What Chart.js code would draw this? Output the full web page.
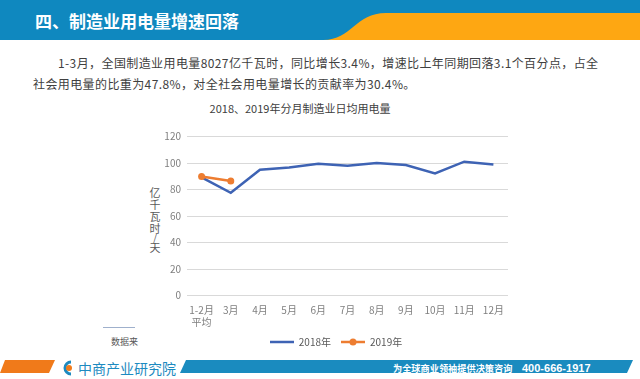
<!DOCTYPE html>
<html lang="zh">
<head>
<meta charset="utf-8">
<script src="https://cdn.jsdelivr.net/npm/chart.js@4.4.1/dist/chart.umd.min.js"></script>
<style>
  html, body { margin: 0; padding: 0; }
  body { width: 640px; height: 379px; position: relative; overflow: hidden; background: #fff;
         font-family: "Noto Sans CJK SC", "Noto Sans", sans-serif; }
  .abs { position: absolute; white-space: nowrap; }
  #deco { position: absolute; left: 0; top: 0; }
  #titre { left: 35px; top: 10px; font-size: 17px; line-height: 22px; font-weight: bold; color: #fff; }
  .para { font-size: 12px; line-height: 16px; color: #404040; letter-spacing: 0.4px; }
  #titreGraf { left: 200px; width: 200px; top: 100px; text-align: center; font-size: 11px; line-height: 16px; color: #404040; }
  #eixoY { left: 149px; top: 186px; width: 12px; text-align: center; font-size: 11px; color: #595959; white-space: normal; }
  #eixoY div { height: 12px; line-height: 12px; }
  #eixoY div.barra { height: 7px; line-height: 7px; font-size: 10px; }
  #fonte { left: 111px; top: 335px; font-size: 9px; line-height: 14px; color: #595959; }
  #linhaFonte { left: 103px; top: 327px; width: 32px; height: 1px; background: #9fb0cc; }
  #caixa { position: absolute; left: 150px; top: 120px; width: 362px; height: 237px; }
  #marca { left: 78px; top: 359px; font-size: 14px; line-height: 18px; color: #1d8ac0; }
  #slogan { left: 393px; top: 362px; font-size: 9.2px; line-height: 12px; font-weight: bold; color: #fff; }
  #fone { left: 522px; top: 361px; font-size: 11px; line-height: 14px; font-weight: bold; color: #fff;
          font-family: "Liberation Sans", sans-serif; }
</style>
</head>
<body>

<svg id="deco" width="640" height="379">
  <rect x="0" y="0" width="640" height="40" fill="#0f88bf"/>
  <path d="M323,40 C352,40 355,13 386,13 L640,13 L640,40 Z" fill="#fea712"/>
  <polygon points="5,360 55,360 49,373 0,373" fill="#f07a1a"/>
  <polygon points="186,360 633,360 627,373 180,373" fill="#1a8bbf"/>
  <path d="M71,362 A6,6 0 1 0 71,374" fill="none" stroke="#1d8ac0" stroke-width="3"/>
  <circle cx="69" cy="368" r="3" fill="#f07a1a"/>
</svg>

<div id="titre" class="abs">四、制造业用电量增速回落</div>
<div class="abs para" style="left:58px; top:55px;">1-3月，全国制造业用电量8027亿千瓦时，同比增长3.4%，增速比上年同期回落3.1个百分点，占全</div>
<div class="abs para" style="left:33px; top:76px;">社会用电量的比重为47.8%，对全社会用电量增长的贡献率为30.4%。</div>

<div id="titreGraf" class="abs">2018、2019年分月制造业日均用电量</div>
<div id="eixoY" class="abs"><div>亿</div><div>千</div><div>瓦</div><div>时</div><div class="barra">/</div><div>天</div></div>
<div id="linhaFonte" class="abs"></div>
<div id="fonte" class="abs">数据来</div>

<div id="caixa"><canvas id="grafico"></canvas></div>

<div id="marca" class="abs">中商产业研究院</div>
<div id="slogan" class="abs">为全球商业领袖提供决策咨询</div>
<div id="fone" class="abs">400-666-1917</div>

<script>
// dados (亿千瓦时/天)
const meses = [['1-2月', '平均'], '3月', '4月', '5月', '6月', '7月', '8月', '9月', '10月', '11月', '12月'];
const valores2018 = [89.3, 77.6, 95.1, 96.8, 99.6, 98.1, 100.2, 98.6, 92.3, 101.1, 99.0];
const valores2019 = [90.0, 86.5];
const nomesSeries = ['2018年', '2019年'];

const AZUL = '#3e63b4';
const LARANJA = '#ed7d31';
const FONTE = '"Noto Sans CJK SC", "Noto Sans", sans-serif';

// ícone da legenda: traço, com bolinha no meio quando a série tem marcadores
function iconeLegenda(cor, comPonto) {
    const c = document.createElement('canvas');
    c.width = 24;
    c.height = 8;
    const ctx = c.getContext('2d');
    ctx.strokeStyle = cor;
    ctx.lineWidth = 2.5;
    ctx.beginPath();
    ctx.moveTo(0, 4);
    ctx.lineTo(24, 4);
    ctx.stroke();
    if (comPonto) {
        ctx.fillStyle = cor;
        ctx.beginPath();
        ctx.arc(12, 4, 3.5, 0, Math.PI * 2);
        ctx.fill();
    }
    return c;
}

const icones = [iconeLegenda(AZUL, false), iconeLegenda(LARANJA, true)];

new Chart(document.getElementById('grafico'), {
    type: 'line',
    data: {
        labels: meses,
        datasets: [{
            label: nomesSeries[0],
            data: valores2018,
            borderColor: AZUL,
            backgroundColor: AZUL,
            borderWidth: 2.5,
            pointRadius: 0,
            tension: 0,
            order: 1
        }, {
            label: nomesSeries[1],
            data: valores2019,
            borderColor: LARANJA,
            backgroundColor: LARANJA,
            borderWidth: 2.5,
            pointRadius: 3.5,
            pointBorderWidth: 0,
            tension: 0,
            order: 0
        }]
    },
    options: {
        responsive: true,
        maintainAspectRatio: false,
        animation: false,
        // padding à esquerda empurra a legenda para a direita; o eixo y fica mais estreito
        layout: { padding: { top: 16.7, right: 3, left: 13, bottom: 0 } },
        plugins: {
            tooltip: { enabled: false },
            legend: {
                position: 'bottom',
                labels: {
                    usePointStyle: true,
                    pointStyleWidth: 24,
                    padding: 10,
                    color: '#595959',
                    font: { size: 10, family: FONTE },
                    sort: (a, b) => a.datasetIndex - b.datasetIndex,
                    generateLabels: (chart) => {
                        const itens = Chart.defaults.plugins.legend.labels.generateLabels(chart);
                        itens.forEach((it) => { it.pointStyle = icones[it.datasetIndex]; });
                        return itens;
                    }
                }
            }
        },
        scales: {
            x: {
                offset: true,
                grid: { display: false },
                border: { display: false },
                ticks: {
                    color: '#7f7f7f',
                    font: { size: 10, lineHeight: 1.25, family: FONTE },
                    padding: 0,
                    maxRotation: 0,
                    autoSkip: false
                },
                afterFit: (s) => { s.height = 31.5; }
            },
            y: {
                min: 0,
                max: 120,
                grid: { color: '#d9d9d9', drawTicks: false },
                border: { display: false },
                ticks: {
                    stepSize: 20,
                    color: '#7f7f7f',
                    padding: 6,
                    font: { size: 10, family: FONTE }
                },
                afterFit: (s) => { s.width = 24; }
            }
        }
    }
});
</script>
</body>
</html>
